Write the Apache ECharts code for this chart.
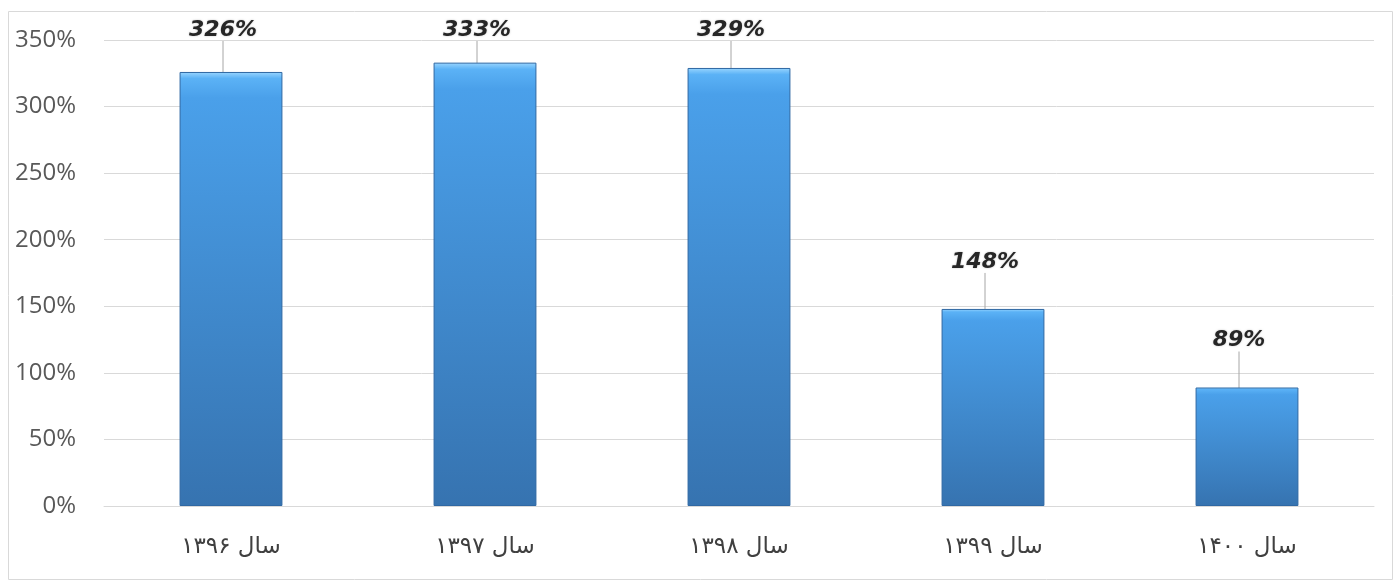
<!DOCTYPE html>
<html><head><meta charset="utf-8">
<script src="https://cdn.jsdelivr.net/npm/echarts@6/dist/echarts.min.js"></script>
<style>html,body{margin:0;padding:0;background:#fff}#c{width:1394px;height:581px}</style>
</head><body><div id="c"></div>
<script>
const categories = ['سال ۱۳۹۶', 'سال ۱۳۹۷', 'سال ۱۳۹۸', 'سال ۱۳۹۹', 'سال ۱۴۰۰'];
const values = [326, 333, 329, 148, 89];
const yTicks = [0, 50, 100, 150, 200, 250, 300, 350];

const chart = echarts.init(document.getElementById('c'));
chart.setOption({
  animation: false,
  graphic: [{type:'rect', shape:{x:8.5,y:11.5,width:1384,height:568}, style:{fill:'none', stroke:'#d9d9d9', lineWidth:1}, silent:true}],
  grid: {left: 104, right: 20, top: 40, bottom: 75},
  xAxis: {
    type: 'category', data: categories,
    axisLine: {lineStyle: {color: '#d9d9d9', width: 1}},
    axisTick: {show: false},
    axisLabel: {fontFamily: 'DejaVu Sans', fontSize: 23, color: '#404040', margin: 30}
  },
  yAxis: {
    type: 'value', min: yTicks[0], max: yTicks[yTicks.length-1], interval: 50,
    axisLine: {show: false}, axisTick: {show: false},
    splitLine: {lineStyle: {color: '#d9d9d9'}},
    axisLabel: {formatter: v => v + '%', fontFamily: 'Open Sans', fontSize: 24, color: '#595959', margin: 28}
  },
  series: [{
    type: 'bar', data: values, barCategoryGap: '59.5%',
    itemStyle: {
      color: new echarts.graphic.LinearGradient(0, 0, 0, 1, [
        {offset: 0, color: '#9ad6ff'},
        {offset: 0.015, color: '#5bb2f6'},
        {offset: 0.06, color: '#4aa0ea'},
        {offset: 1, color: '#3673b0'}
      ]),
      borderColor: '#2f68a3', borderWidth: 1
    },
    label: {
      show: true, position: 'top', distance: 6,
      formatter: p => p.value + '%',
      fontFamily: 'DejaVu Sans', fontWeight: 'bold', fontStyle: 'italic',
      fontSize: 22, color: '#262626',
      textShadowColor: 'rgba(0,0,0,0.25)', textShadowBlur: 2
    },
    labelLine: {show: true, lineStyle: {color: '#a6a6a6', width: 1}},
    labelLayout: function(params){
      const r = params.labelRect;
      const c = r.y + r.height / 2;
      const target = Math.max(c - 30, 30);
      return {dx: -8, dy: target - c};
    }
  }]
});
</script></body></html>
